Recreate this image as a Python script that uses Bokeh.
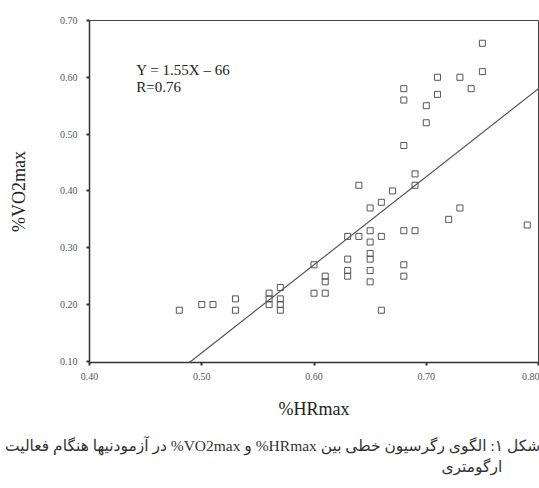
from bokeh.plotting import figure
from bokeh.models import Range1d, Slope, Label, FixedTicker, NumeralTickFormatter, Div
from bokeh.layouts import column
from bokeh.embed import file_html
from bokeh.resources import INLINE

# %HRmax (x) and %VO2max (y) for each subject
hr_max = [0.48, 0.50, 0.51, 0.53, 0.53,
          0.56, 0.56, 0.56,
          0.57, 0.57, 0.57, 0.57,
          0.60, 0.60,
          0.61, 0.61, 0.61,
          0.63, 0.63, 0.63, 0.63,
          0.64, 0.64,
          0.65, 0.65, 0.65, 0.65, 0.65, 0.65, 0.65,
          0.66, 0.66, 0.66,
          0.67,
          0.68, 0.68, 0.68, 0.68, 0.68, 0.68,
          0.69, 0.69, 0.69,
          0.70, 0.70,
          0.71, 0.71,
          0.72,
          0.73, 0.73,
          0.74,
          0.75, 0.75,
          0.79]
vo2_max = [0.19, 0.20, 0.20, 0.21, 0.19,
           0.22, 0.21, 0.20,
           0.23, 0.21, 0.20, 0.19,
           0.27, 0.22,
           0.25, 0.24, 0.22,
           0.32, 0.28, 0.26, 0.25,
           0.41, 0.32,
           0.37, 0.33, 0.31, 0.29, 0.28, 0.26, 0.24,
           0.38, 0.32, 0.19,
           0.40,
           0.58, 0.56, 0.48, 0.33, 0.27, 0.25,
           0.43, 0.41, 0.33,
           0.55, 0.52,
           0.60, 0.57,
           0.35,
           0.60, 0.37,
           0.58,
           0.66, 0.61,
           0.34]

# regression line
slope = 1.55
intercept = -0.66
equation_text = "Y = 1.55X \u2013 66"
r_text = "R=0.76"

x_ticks = [0.40, 0.50, 0.60, 0.70, 0.80]
y_ticks = [0.10, 0.20, 0.30, 0.40, 0.50, 0.60, 0.70]

x_label = "%HRmax"
y_label = "%VO2max"
caption_1 = "شکل ۱: الگوی رگرسیون خطی بین HRmax% و VO2max% در آزمودنیها هنگام فعالیت"
caption_2 = "ارگومتری"

SERIF = "Liberation Serif"

p = figure(width=539, height=424, output_backend="svg", toolbar_location=None,
           x_range=Range1d(0.40, 0.80), y_range=Range1d(0.098, 0.70),
           min_border_left=89, min_border_right=1, min_border_top=20,
           min_border_bottom=62)

p.xgrid.grid_line_color = None
p.ygrid.grid_line_color = None
p.outline_line_color = "#444444"
p.outline_line_width = 1
p.background_fill_color = "white"
p.border_fill_color = "white"

for ax, ticks in ((p.xaxis, x_ticks), (p.yaxis, y_ticks)):
    ax.ticker = FixedTicker(ticks=ticks)
    ax.formatter = NumeralTickFormatter(format="0.00")
    ax.major_tick_in = 0
    ax.major_tick_out = 3
    ax.major_tick_line_width = 2
    ax.major_tick_line_color = "#333333"
    ax.minor_tick_in = 0
    ax.minor_tick_out = 0
    ax.axis_line_color = "#333333"
    ax.axis_line_width = 1.5
    ax.major_label_text_font = SERIF
    ax.major_label_text_font_size = "10px"
    ax.major_label_text_color = "#555555"
    ax.axis_label_text_font = SERIF
    ax.axis_label_text_font_size = "18px"
    ax.axis_label_text_font_style = "normal"
    ax.axis_label_text_color = "#222222"

p.xaxis.axis_label = x_label
p.yaxis.axis_label = y_label
p.xaxis.major_label_standoff = 7
p.xaxis.axis_label_standoff = 16
p.yaxis.major_label_standoff = 9
p.yaxis.axis_label_standoff = 28

p.scatter(hr_max, vo2_max, marker="square", size=6, fill_color=None,
          line_color="#555555", line_width=1)

p.add_layout(Slope(gradient=slope, y_intercept=intercept,
                   line_color="#555555", line_width=1.2))

p.add_layout(Label(x=0.4417, y=0.5985, text=equation_text, text_font=SERIF,
                   text_font_size="15px", text_color="#222222"))
p.add_layout(Label(x=0.4417, y=0.5685, text=r_text, text_font=SERIF,
                   text_font_size="15px", text_color="#222222"))

caption_html = (
    '<div dir="rtl" style="font-family:\'Liberation Serif\',\'DejaVu Sans\',serif;'
    'font-size:15.5px;color:#333333;line-height:21px;padding-top:6px;white-space:nowrap;">'
    '<div style="text-align:right;margin-right:1px;">' + caption_1 + '</div>'
    '<div style="text-align:right;margin-right:39px;">' + caption_2 + '</div>'
    '</div>'
)
caption = Div(text=caption_html, width=539, height=64)

layout = column(p, caption, spacing=0)

open("out.html", "w").write(file_html(layout, INLINE))
